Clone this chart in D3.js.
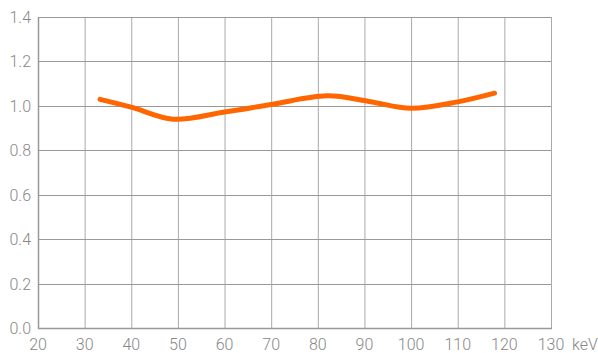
<!DOCTYPE html>
<html><head><meta charset="utf-8">
<script src="https://cdn.jsdelivr.net/npm/d3@7"></script>
<style>body{margin:0;background:#fff}svg{display:block}text{font-family:Roboto,"Open Sans",sans-serif;font-weight:300}</style>
</head><body>
<svg id="c" width="598" height="353"></svg>
<script>
const energies = [33.3, 40, 49, 60, 70, 82, 91, 100, 110, 117.9];
const response = [1.029, 0.994, 0.940, 0.972, 1.006, 1.045, 1.020, 0.989, 1.018, 1.057];
const xTicks = [20,30,40,50,60,70,80,90,100,110,120,130];
const yTicks = [0,0.2,0.4,0.6,0.8,1.0,1.2,1.4];
const xUnit = "keV";

const svg = d3.select("#c");
const x = d3.scaleLinear().domain([20,130]).range([38,551]);
const y = d3.scaleLinear().domain([0,1.4]).range([328,17]);

const g = svg.append("g");
g.selectAll(".vg").data(xTicks).join("line")
  .attr("x1",d=>x(d)+0.5).attr("x2",d=>x(d)+0.5)
  .attr("y1",y(1.4)).attr("y2",y(0))
  .attr("stroke","#aaa").attr("stroke-width",1);
g.selectAll(".hg").data(yTicks).join("line")
  .attr("x1",x(20)).attr("x2",x(130))
  .attr("y1",d=>Math.round(y(d))+0.5).attr("y2",d=>Math.round(y(d))+0.5)
  .attr("stroke","#999").attr("stroke-width",1);
g.append("line").attr("x1",x(20)+0.5).attr("x2",x(20)+0.5).attr("y1",y(1.4)).attr("y2",y(0)+1).attr("stroke","#999").attr("stroke-width",1.5);
g.append("line").attr("x1",x(20)).attr("x2",x(130)+1).attr("y1",Math.round(y(0))+0.5).attr("y2",Math.round(y(0))+0.5).attr("stroke","#999").attr("stroke-width",1.5);

svg.selectAll(".yl").data(yTicks).join("text")
  .attr("x",31).attr("y",d=>y(d)+6).attr("text-anchor","end")
  .attr("font-size",16).attr("fill","#888").text(d=>d.toFixed(1));
svg.selectAll(".xl").data(xTicks).join("text")
  .attr("x",d=>x(d)).attr("y",350).attr("text-anchor","middle")
  .attr("font-size",16).attr("fill","#888").text(d=>d);
svg.append("text").attr("x",585).attr("y",350).attr("text-anchor","middle")
  .attr("font-size",16).attr("fill","#888").text(xUnit);

const line = d3.line().x((d,i)=>x(energies[i])).y(d=>y(d)).curve(d3.curveCatmullRom.alpha(0.5));
svg.append("path").datum(response).attr("d",line)
  .attr("fill","none").attr("stroke","#ff6600").attr("stroke-width",5).attr("stroke-linecap","round");
</script>
</body></html>
